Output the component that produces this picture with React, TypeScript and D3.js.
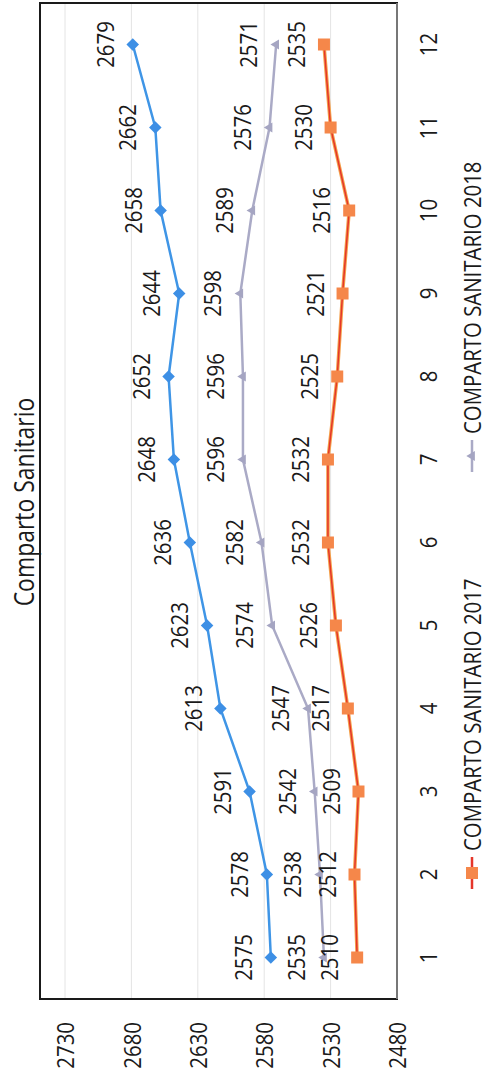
import * as d3 from "d3";
import { useEffect, useRef } from "react";

// chart is scanned sideways, so it is drawn landscape and rotated
const months = ["1", "2", "3", "4", "5", "6", "7", "8", "9", "10", "11", "12"];
const yTicks = [2480, 2530, 2580, 2630, 2680, 2730];
const serieBlue = [2575, 2578, 2591, 2613, 2623, 2636, 2648, 2652, 2644, 2658, 2662, 2679];
const serie2017 = [2510, 2512, 2509, 2517, 2526, 2532, 2532, 2525, 2521, 2516, 2530, 2535];
const serie2018 = [2535, 2538, 2542, 2547, 2574, 2582, 2596, 2596, 2598, 2589, 2576, 2571];
const legendLabels = ["COMPARTO SANITARIO 2017", "COMPARTO SANITARIO 2018"];
const title = "Comparto Sanitario";

const W = 1080;
const H = 494;
const FONT = "'Open Sans', sans-serif";
const SX = 0.85;

export default function App() {
  const ref = useRef<SVGSVGElement | null>(null);

  useEffect(() => {
    const svg = d3.select(ref.current);
    svg.selectAll("*").remove();
    svg.append("rect").attr("width", H).attr("height", W).attr("fill", "#fff");

    const g = svg.append("g").attr("transform", `translate(0,${W}) rotate(-90)`);

    const left = 81, right = 1077, top = 40, bottom = 397;
    const x = d3.scaleBand<string>().domain(months).range([left, right]);
    const cx = (i: number) => (x(months[i]) as number) + x.bandwidth() / 2;
    const y = d3.scaleLinear().domain([2480, 2730]).range([bottom, 65]);

    // gridlines
    g.append("g")
      .selectAll("line")
      .data(yTicks.slice(1))
      .join("line")
      .attr("x1", left).attr("x2", right)
      .attr("y1", d => y(d)).attr("y2", d => y(d))
      .attr("stroke", "#e4e4e4").attr("stroke-width", 1);

    g.append("rect")
      .attr("x", left).attr("y", top)
      .attr("width", right - left).attr("height", bottom - top)
      .attr("fill", "none").attr("stroke", "#1a1a1a").attr("stroke-width", 2);
    g.append("line")
      .attr("x1", left).attr("x2", right).attr("y1", bottom).attr("y2", bottom)
      .attr("stroke", "#777").attr("stroke-width", 2);

    const label = (sel: any, px: number, py: number, txt: string, anchor = "middle", size = 24) =>
      sel.append("text")
        .attr("transform", `translate(${px},${py}) scale(${SX},1)`)
        .attr("text-anchor", anchor)
        .attr("dominant-baseline", "central")
        .attr("font-family", FONT)
        .attr("font-size", size)
        .attr("fill", "#1a1a1a")
        .text(txt);

    // y axis labels
    const ya = g.append("g");
    yTicks.forEach(t => label(ya, 58, y(t), String(t), "end"));

    // x axis labels
    const xa = g.append("g");
    months.forEach((m, i) => label(xa, cx(i), 428, m));

    // title
    label(g, 578, 23, title, "middle", 27);

    const line = d3.line<number>().x((_, i) => cx(i)).y(d => y(d));

    // blue series
    g.append("path").attr("d", line(serieBlue)).attr("fill", "none")
      .attr("stroke", "#3f95e6").attr("stroke-width", 2.5);
    g.append("g").selectAll("path").data(serieBlue).join("path")
      .attr("d", d3.symbol(d3.symbolDiamond2, 100)())
      .attr("transform", (d, i) => `translate(${cx(i)},${y(d)})`)
      .attr("fill", "#3d8fe5");

    // 2018 series gray
    g.append("path").attr("d", line(serie2018)).attr("fill", "none")
      .attr("stroke", "#aaaac6").attr("stroke-width", 2.5);
    g.append("g").selectAll("path").data(serie2018).join("path")
      .attr("d", d3.symbol(d3.symbolTriangle2, 70)())
      .attr("transform", (d, i) => `translate(${cx(i)},${y(d)})`)
      .attr("fill", "#a5a5c2");

    // 2017 series orange
    g.append("path").attr("d", line(serie2017)).attr("fill", "none")
      .attr("stroke", "#f4a04a").attr("stroke-width", 3.5);
    g.append("path").attr("d", line(serie2017)).attr("fill", "none")
      .attr("stroke", "#e5362a").attr("stroke-width", 1.5);
    g.append("g").selectAll("rect").data(serie2017).join("rect")
      .attr("x", (d, i) => cx(i) - 6).attr("y", d => y(d) - 6)
      .attr("width", 12).attr("height", 12)
      .attr("fill", "#f5874a");

    // data labels
    const dl = g.append("g");
    [serieBlue, serie2018, serie2017].forEach(s =>
      s.forEach((v, i) => label(dl, cx(i), y(v) - 28, String(v)))
    );

    // legend
    const leg = [
      { x: 207, color: "#f5874a", line: "#e5362a", text: legendLabels[0], shape: "sq" },
      { x: 624, color: "#a5a5c2", line: "#aaaac6", text: legendLabels[1], shape: "tri" },
    ];
    leg.forEach(e => {
      g.append("line").attr("x1", e.x - 16).attr("x2", e.x + 16)
        .attr("y1", 472).attr("y2", 472).attr("stroke", e.line).attr("stroke-width", 2.5);
      if (e.shape === "sq") {
        g.append("rect").attr("x", e.x - 6).attr("y", 466).attr("width", 12).attr("height", 12)
          .attr("fill", e.color);
      } else {
        g.append("path").attr("d", d3.symbol(d3.symbolTriangle2, 70)())
          .attr("transform", `translate(${e.x},472)`).attr("fill", e.color);
      }
      label(g, e.x + 22, 472, e.text, "start");
    });
  }, []);

  return (
    <div style={{ position: "absolute", left: 0, top: 0 }}>
      <svg ref={ref} width={H} height={W} style={{ display: "block" }} />
    </div>
  );
}
